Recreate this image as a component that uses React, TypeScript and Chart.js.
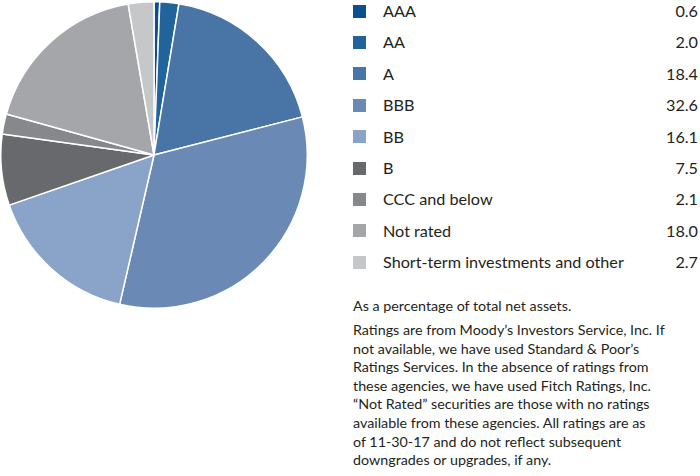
import React, { useEffect, useRef } from "react";
import { Chart, registerables } from "chart.js";

Chart.register(...registerables);

const categories = [
  "AAA",
  "AA",
  "A",
  "BBB",
  "BB",
  "B",
  "CCC and below",
  "Not rated",
  "Short-term investments and other",
];
const values = [0.6, 2.0, 18.4, 32.6, 16.1, 7.5, 2.1, 18.0, 2.7];
const valueLabels = ["0.6", "2.0", "18.4", "32.6", "16.1", "7.5", "2.1", "18.0", "2.7"];
const colors = [
  "#0b4f8e",
  "#21639b",
  "#4874a6",
  "#6a8ab5",
  "#8aa3c8",
  "#68696d",
  "#87888c",
  "#a5a6a9",
  "#c6c7c9",
];
const noteHead = "As a percentage of total net assets.";
const noteLines = [
  "Ratings are from Moody\u2019s Investors Service, Inc. If",
  "not available, we have used Standard & Poor\u2019s",
  "Ratings Services. In the absence of ratings from",
  "these agencies, we have used Fitch Ratings, Inc.",
  "\u201CNot Rated\u201D securities are those with no ratings",
  "available from these agencies. All ratings are as",
  "of 11-30-17 and do not reflect subsequent",
  "downgrades or upgrades, if any.",
];

const FONT = "Lato, 'Open Sans', sans-serif";
const TEXT = "#231f20";

export default function App() {
  const ref = useRef<HTMLCanvasElement | null>(null);

  useEffect(() => {
    if (!ref.current) return;
    const chart = new Chart(ref.current, {
      type: "pie",
      data: {
        labels: categories,
        datasets: [
          {
            data: values,
            backgroundColor: colors,
            borderColor: "#ffffff",
            borderWidth: 1.5,
          },
        ],
      },
      options: {
        animation: false,
        responsive: false,
        maintainAspectRatio: false,
        layout: { padding: 0 },
        plugins: {
          legend: { display: false },
          tooltip: { enabled: false },
        },
      },
    });
    return () => chart.destroy();
  }, []);

  const rowPitch = 31.4;
  const firstRow = 11;

  return (
    <div
      style={{
        position: "absolute",
        left: 0,
        top: 0,
        width: 700,
        height: 476,
        background: "#ffffff",
        overflow: "hidden",
        fontFamily: FONT,
        color: TEXT,
      }}
    >
      <canvas
        ref={ref}
        width={308}
        height={308}
        style={{ position: "absolute", left: 0, top: 1, width: 308, height: 308 }}
      />
      {categories.map((c, i) => {
        const cy = firstRow + i * rowPitch;
        return (
          <React.Fragment key={c}>
            <div
              style={{
                position: "absolute",
                left: 353,
                top: cy - 6.5,
                width: 13,
                height: 13,
                background: colors[i],
              }}
            />
            <div
              style={{
                position: "absolute",
                left: 383,
                top: cy - 10,
                height: 20,
                lineHeight: "20px",
                fontSize: 16.2,
                whiteSpace: "nowrap",
              }}
            >
              {c}
            </div>
            <div
              style={{
                position: "absolute",
                right: 2,
                top: cy - 10,
                height: 20,
                lineHeight: "20px",
                fontSize: 16.2,
                textAlign: "right",
              }}
            >
              {valueLabels[i]}
            </div>
          </React.Fragment>
        );
      })}
      <div
        style={{
          position: "absolute",
          left: 353,
          top: 296,
          lineHeight: "20px",
          fontSize: 14.3,
          whiteSpace: "nowrap",
        }}
      >
        {noteHead}
      </div>
      <div
        style={{
          position: "absolute",
          left: 353,
          top: 321,
          lineHeight: "18.6px",
          fontSize: 14.3,
          whiteSpace: "nowrap",
        }}
      >
        {noteLines.map((l, i) => (
          <div key={i}>{l}</div>
        ))}
      </div>
    </div>
  );
}
